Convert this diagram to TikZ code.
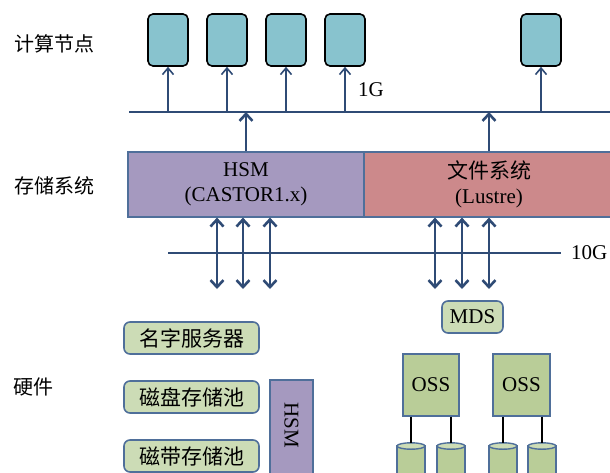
\documentclass[tikz,border=0pt]{standalone}
\usepackage{fontspec}
\setmainfont{Liberation Serif}
\newfontfamily\cjk{Noto Sans CJK SC}
\usetikzlibrary{arrows.meta}
\definecolor{navy}{HTML}{2F4B75}
\definecolor{edgeblue}{HTML}{4F6F9A}
\definecolor{cfill}{HTML}{88C3CE}
\definecolor{hsmfill}{HTML}{A599BF}
\definecolor{lusfill}{HTML}{CC898B}
\definecolor{lgreen}{HTML}{CCDCB6}
\definecolor{dgreen}{HTML}{B9CD98}
\begin{document}
\begin{tikzpicture}[x=1pt,y=-1pt,
  compute/.style={draw=black,line width=1.6pt,fill=cfill,rounded corners=5pt,minimum width=40pt,minimum height=52pt,inner sep=0pt},
  storebox/.style={draw=edgeblue,line width=1.2pt,minimum height=65pt,inner sep=0pt,align=center,font=\fontsize{21}{25}\selectfont},
  greenbox/.style={draw=edgeblue,line width=1.6pt,fill=lgreen,rounded corners=6pt,minimum height=32pt,inner sep=0pt,font=\cjk\fontsize{21}{24}\selectfont},
  ossbox/.style={draw=edgeblue,line width=1.4pt,fill=dgreen,minimum width=56pt,minimum height=62pt,inner sep=0pt,font=\fontsize{21}{24}\selectfont},
  rowlabel/.style={font=\cjk\fontsize{20}{24}\selectfont,inner sep=0pt},
  netlabel/.style={font=\fontsize{21}{24}\selectfont,inner sep=0pt},
  thin arrow/.style={navy,line width=1.6pt,-{Straight Barb[length=6.5pt,width=11pt,line width=1.6pt]}},
  thick arrow/.style={navy,line width=2.8pt,-{Straight Barb[length=7pt,width=13pt,line width=2.6pt]}},
  dbl arrow/.style={navy,line width=2.8pt,{Straight Barb[length=7pt,width=13pt,line width=2.6pt]}-{Straight Barb[length=7pt,width=13pt,line width=2.6pt]}},
  busline/.style={navy,line width=2.8pt},
  cylbody/.style={draw=edgeblue,line width=1.4pt,fill=dgreen},
  cyltop/.style={draw=edgeblue,line width=1.4pt,fill=lgreen},
  blackline/.style={black,line width=1.4pt}]
\useasboundingbox (0,0) rectangle (610,472);

% row labels
\node[rowlabel] (lblc) at (54,44) {计算节点};
\node[rowlabel] (lbls) at (54,186) {存储系统};
\node[rowlabel] (lblh) at (33,387) {硬件};

% compute nodes
\node[compute] (c1) at (168,40) {};
\node[compute] (c2) at (227,40) {};
\node[compute] (c3) at (286,40) {};
\node[compute] (c4) at (345,40) {};
\node[compute] (c5) at (541,40) {};

% 1G bus
\coordinate (busL) at (129,112);
\coordinate (busR) at (615,112);
\draw[busline] (busL) -- (busR);
\foreach \n in {c1,c2,c3,c4,c5}
  \draw[thin arrow] (\n.south |- busL) -- (\n.south);
\node[netlabel] (g1) at (371,90) {1G};

% storage systems
\node[storebox,fill=hsmfill,minimum width=236pt] (hsm) at (246,184.5) {HSM\\(CASTOR1.x)};
\node[storebox,fill=lusfill,minimum width=250pt] (lus) at (489,184.5) {{\cjk 文件系统}\\(Lustre)};
\draw[thick arrow] (hsm.north) -- (hsm.north |- busL);
\draw[thick arrow] (lus.north) -- (lus.north |- busL);

% 10G bus
\coordinate (tbL) at (168,253);
\coordinate (tbR) at (561,253);
\draw[busline] (tbL) -- (tbR);
\node[netlabel,anchor=west] (g10) at (571,253) {10G};

\foreach \x [count=\i] in {217,243,270,435,462,489}
  \coordinate (d\i) at (\x,289);
\foreach \i in {1,2,3}
  \draw[dbl arrow] (d\i |- hsm.south) -- (d\i);
\foreach \i in {4,5,6}
  \draw[dbl arrow] (d\i |- lus.south) -- (d\i);

% hardware left
\node[greenbox,minimum width=135pt] (ns) at (191.5,338) {名字服务器};
\node[greenbox,minimum width=135pt] (dp) at (191.5,397) {磁盘存储池};
\node[greenbox,minimum width=135pt] (tp) at (191.5,456) {磁带存储池};
\node[draw=edgeblue,line width=1.4pt,fill=hsmfill,minimum width=43pt,minimum height=110pt,inner sep=0pt] (hsmv) at (291.5,435) {};
\node[netlabel,rotate=-90] (hsmt) at (291.5,425) {HSM};

% hardware right
\node[greenbox,minimum width=61pt,font=\fontsize{21}{24}\selectfont] (mds) at (472.5,317) {MDS};
\node[ossbox] (oss1) at (431,385) {OSS};
\node[ossbox,minimum width=57pt] (oss2) at (521.5,385) {OSS};

\foreach \x [count=\i] in {411,451,503,542}{
  \coordinate (k\i) at (\x,446);
  \draw[cylbody] (\x-14,446) rectangle (\x+14,490);
  \draw[cyltop] (k\i) ellipse (14pt and 3.2pt);
}
\draw[blackline] (oss1.south -| k1) -- ([yshift=3pt]k1);
\draw[blackline] (oss1.south -| k2) -- ([yshift=3pt]k2);
\draw[blackline] (oss2.south -| k3) -- ([yshift=3pt]k3);
\draw[blackline] (oss2.south -| k4) -- ([yshift=3pt]k4);
\end{tikzpicture}
\end{document}
